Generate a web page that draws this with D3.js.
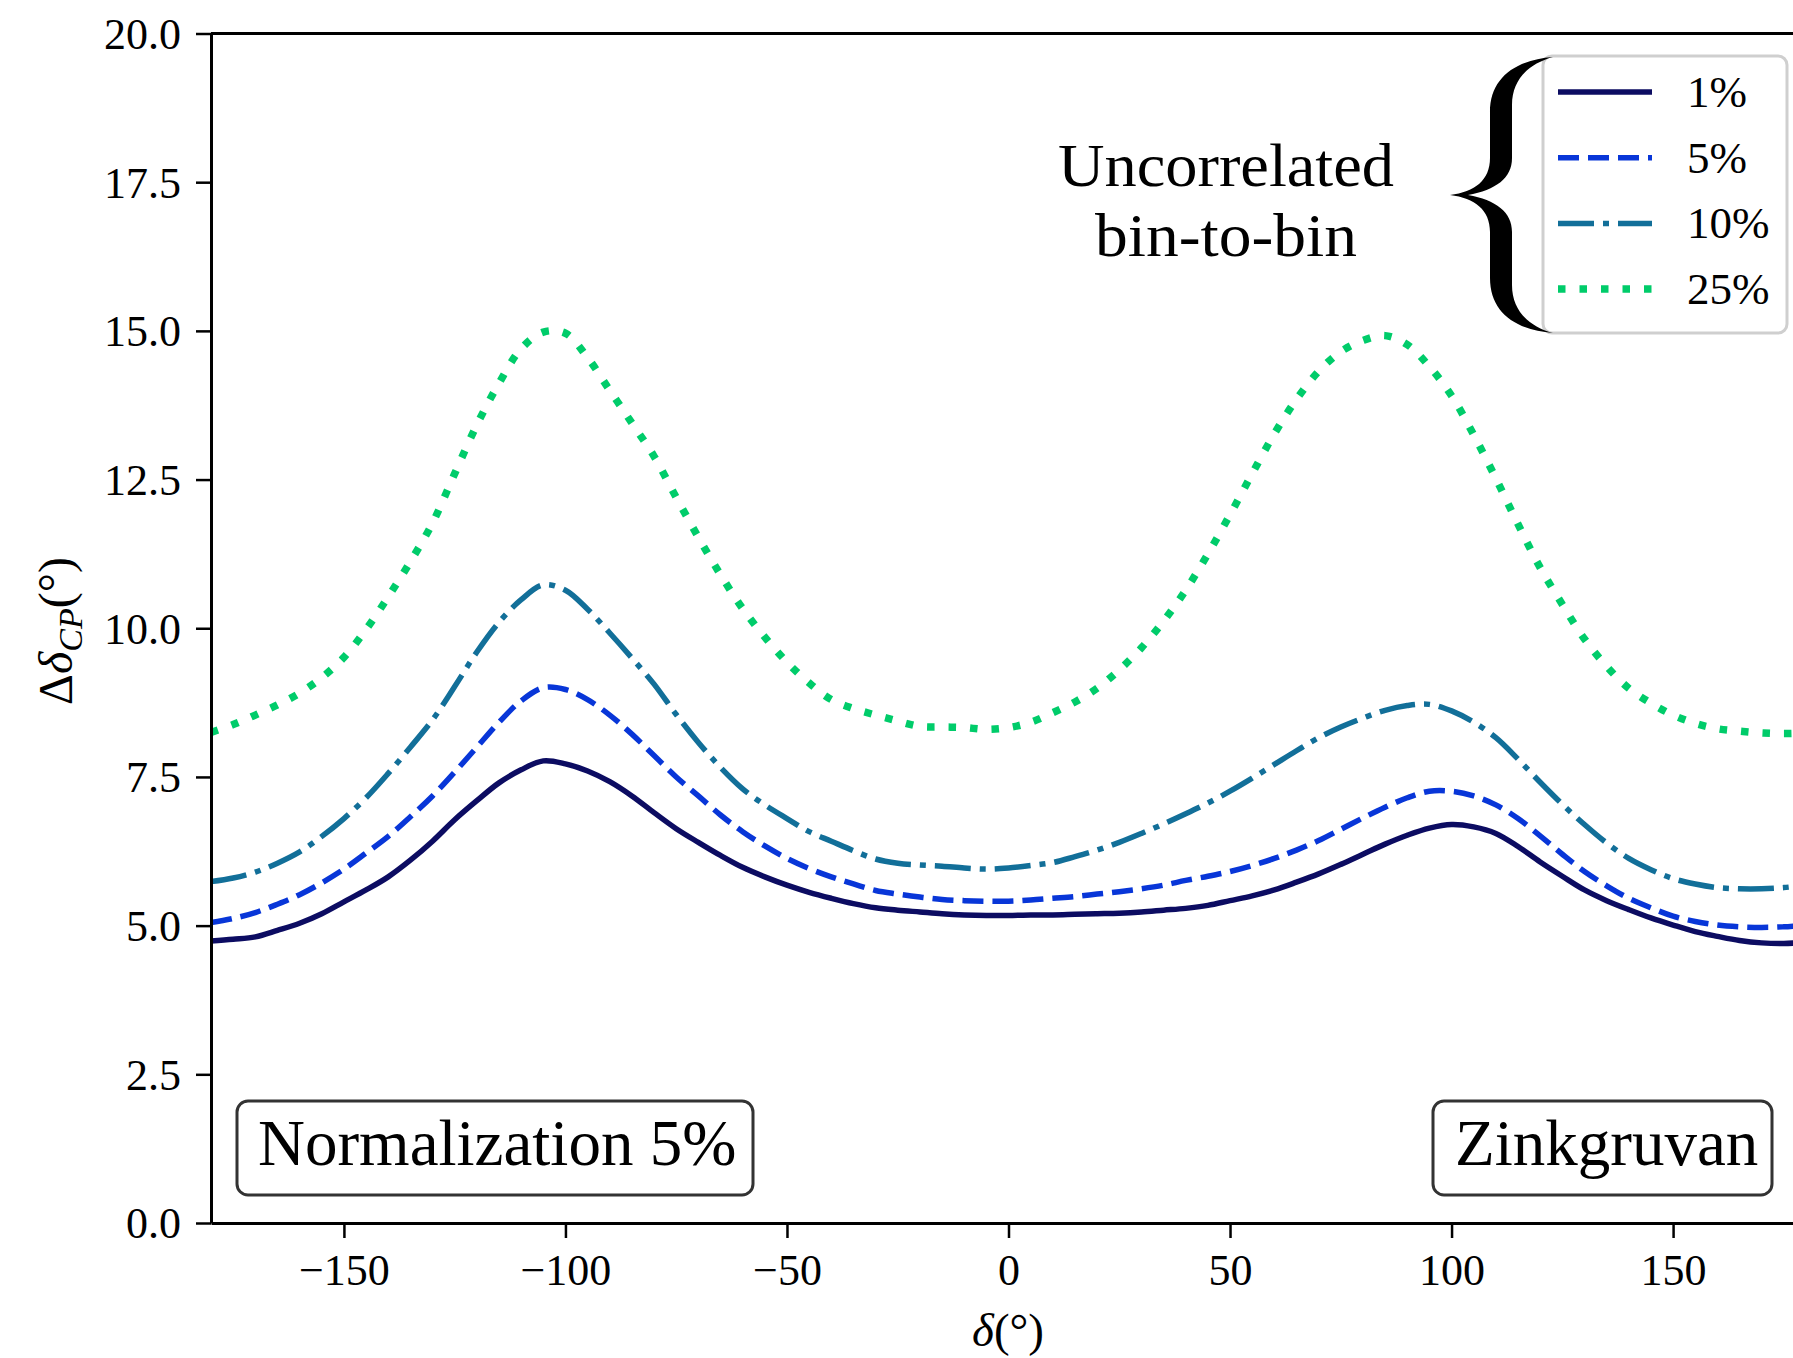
<!DOCTYPE html>
<html>
<head>
<meta charset="utf-8">
<script src="https://cdn.jsdelivr.net/npm/d3@7"></script>
<style>
  body { margin: 0; background: #fff; }
  svg { display: block; overflow: hidden; }
  text { font-family: "Liberation Serif", "DejaVu Serif", serif; fill: #000; }
</style>
</head>
<body>
<script>
// delta (deg), 5 degree steps
const deltaValues = [-180,-175,-170,-165,-160,-155,-150,-145,-140,-135,-130,-125,-120,-115,-110,-105,-100,-95,-90,-85,-80,-75,-70,-65,-60,-55,-50,-45,-40,-35,-30,-25,-20,-15,-10,-5,0,5,10,15,20,25,30,35,40,45,50,55,60,65,70,75,80,85,90,95,100,105,110,115,120,125,130,135,140,145,150,155,160,165,170,175,180]

const unc1 = [4.74,4.77,4.81,4.92,5.04,5.2,5.4,5.6,5.82,6.1,6.42,6.78,7.1,7.4,7.62,7.77,7.72,7.6,7.42,7.18,6.9,6.63,6.4,6.18,5.98,5.82,5.68,5.56,5.46,5.37,5.3,5.26,5.23,5.2,5.18,5.17,5.17,5.18,5.18,5.19,5.2,5.21,5.23,5.26,5.29,5.34,5.42,5.5,5.6,5.73,5.87,6.03,6.2,6.37,6.52,6.64,6.7,6.66,6.55,6.33,6.07,5.83,5.6,5.42,5.27,5.13,5.01,4.9,4.82,4.75,4.71,4.7,4.72]
const unc5 = [5.05,5.12,5.22,5.36,5.52,5.72,5.95,6.22,6.5,6.83,7.18,7.58,8.0,8.42,8.78,9.0,8.97,8.8,8.54,8.22,7.86,7.5,7.18,6.86,6.58,6.34,6.13,5.96,5.82,5.7,5.59,5.53,5.48,5.44,5.42,5.41,5.41,5.43,5.46,5.49,5.53,5.57,5.62,5.68,5.76,5.83,5.91,6.01,6.13,6.27,6.43,6.62,6.81,6.99,7.15,7.26,7.26,7.18,7.03,6.8,6.51,6.2,5.91,5.67,5.46,5.3,5.16,5.07,5.01,4.98,4.97,4.98,5.01]
const unc10 = [5.74,5.8,5.9,6.05,6.24,6.5,6.8,7.15,7.56,8.0,8.46,9.02,9.6,10.1,10.48,10.73,10.64,10.32,9.92,9.5,9.06,8.55,8.08,7.66,7.3,7.03,6.8,6.58,6.42,6.26,6.12,6.05,6.02,6.0,5.97,5.95,5.97,6.01,6.06,6.16,6.27,6.4,6.55,6.71,6.88,7.06,7.26,7.48,7.71,7.94,8.16,8.34,8.49,8.62,8.7,8.72,8.61,8.42,8.16,7.8,7.41,7.04,6.7,6.39,6.13,5.94,5.79,5.7,5.64,5.62,5.62,5.64,5.68]
const unc25 = [8.25,8.38,8.54,8.71,8.91,9.17,9.51,9.98,10.53,11.12,11.77,12.6,13.42,14.12,14.7,14.98,14.96,14.55,14.0,13.45,12.89,12.2,11.53,10.9,10.33,9.85,9.43,9.08,8.8,8.65,8.54,8.44,8.35,8.34,8.33,8.3,8.33,8.42,8.58,8.76,8.99,9.3,9.67,10.12,10.64,11.25,11.91,12.6,13.27,13.85,14.32,14.65,14.84,14.92,14.77,14.4,13.91,13.25,12.52,11.75,11.02,10.4,9.82,9.36,8.99,8.74,8.54,8.4,8.31,8.27,8.24,8.23,8.24]

const seriesNames = ['1%', '5%', '10%', '25%']
const xTicks = [-150, -100, -50, 0, 50, 100, 150]
const yTicks = [0, 2.5, 5, 7.5, 10, 12.5, 15, 17.5, 20]

const series = [
  {name: seriesNames[0], values: unc1, color: '#0c0c62', dash: null, width: 5.5},
  {name: seriesNames[1], values: unc5, color: '#0836d8', dash: '21,9', width: 5.5},
  {name: seriesNames[2], values: unc10, color: '#126f99', dash: '36,9,6,9', width: 5.5},
  {name: seriesNames[3], values: unc25, color: '#00cc6a', dash: '7.5,14', width: 7.5}
]

const W = 1793, H = 1358
const margin = {top: 33.5, left: 211}
const plotW = 1595, plotH = 1189.5

const svg = d3.select('body').append('svg')
  .attr('width', W)
  .attr('height', H)

const chart = svg.append('g')
  .attr('transform', `translate(${margin.left},${margin.top})`)

const xScale = d3.scaleLinear().domain([-180, 180]).range([0, plotW])
const yScale = d3.scaleLinear().domain([0, 20]).range([plotH, 0])

svg.append('defs').append('clipPath').attr('id', 'clip')
  .append('rect').attr('width', plotW).attr('height', plotH)

const line = d3.line()
  .x((d, i) => xScale(deltaValues[i]))
  .y(d => yScale(d))
  .curve(d3.curveCatmullRom)

const lines = chart.append('g').attr('clip-path', 'url(#clip)')
series.forEach(s => {
  lines.append('path')
    .datum(s.values)
    .attr('d', line)
    .attr('fill', 'none')
    .attr('stroke', s.color)
    .attr('stroke-width', s.width)
    .attr('stroke-dasharray', s.dash)
    .attr('stroke-linejoin', 'round')
})

// axes
const xAxis = d3.axisBottom(xScale).tickValues(xTicks).tickSize(15).tickSizeOuter(0).tickPadding(16)
const yAxis = d3.axisLeft(yScale).tickValues(yTicks).tickSize(15).tickSizeOuter(0).tickPadding(15)
  .tickFormat(d3.format('.1f'))

const gx = chart.append('g').attr('transform', `translate(0,${plotH})`).call(xAxis)
const gy = chart.append('g').call(yAxis)
;[gx, gy].forEach(g => {
  g.select('.domain').attr('stroke', '#000').attr('stroke-width', 3)
  g.selectAll('.tick line').attr('stroke', '#000').attr('stroke-width', 2.5)
  g.selectAll('.tick text').attr('font-size', 44).attr('fill', '#000')
    .style('font-family', '"Liberation Serif", serif')
})
gy.selectAll('.tick text').attr('dy', '0.34em')

// top and right spines
chart.append('line').attr('x1', 0).attr('x2', plotW).attr('y1', 0).attr('y2', 0)
  .attr('stroke', '#000').attr('stroke-width', 3)
chart.append('line').attr('x1', plotW).attr('x2', plotW).attr('y1', 0).attr('y2', plotH)
  .attr('stroke', '#000').attr('stroke-width', 3)

// axis labels
svg.append('text')
  .attr('x', 1008).attr('y', 1346)
  .attr('text-anchor', 'middle')
  .attr('font-size', 47)
  .html('<tspan font-style="italic">δ</tspan>(°)')

svg.append('text')
  .attr('transform', 'translate(72,631) rotate(-90)')
  .attr('text-anchor', 'middle')
  .attr('font-size', 48)
  .html('Δ<tspan font-style="italic">δ</tspan><tspan font-style="italic" font-size="34" dy="10">CP</tspan><tspan dy="-10">(°)</tspan>')

// text boxes
function textBox(x, y, w, h, label, tx) {
  svg.append('rect')
    .attr('x', x).attr('y', y).attr('width', w).attr('height', h)
    .attr('rx', 11).attr('fill', '#fff')
    .attr('stroke', '#333').attr('stroke-width', 3)
  svg.append('text')
    .attr('x', tx).attr('y', y + 64)
    .attr('font-size', 65)
    .text(label)
}
textBox(237, 1101, 516, 94, 'Normalization 5%', 258)
textBox(1433, 1101, 339, 94, 'Zinkgruvan', 1455)

// legend
const legX = 1543, legY = 56
svg.append('rect')
  .attr('x', legX).attr('y', legY).attr('width', 244).attr('height', 277)
  .attr('rx', 9).attr('fill', '#fff')
  .attr('stroke', '#cfcfcf').attr('stroke-width', 3)

series.forEach((s, i) => {
  const yy = 92 + i * 65.7
  svg.append('line')
    .attr('x1', 1558).attr('x2', 1652).attr('y1', yy).attr('y2', yy)
    .attr('stroke', s.color)
    .attr('stroke-width', s.width)
    .attr('stroke-dasharray', s.dash)
  svg.append('text')
    .attr('x', 1687).attr('y', yy + 15)
    .attr('font-size', 45)
    .text(s.name)
})

// brace
svg.append('path')
  .attr('d', 'M1553,57 C1515,60 1490,78 1490,112 L1490,158 C1490,180 1475,192 1450,195 ' +
    'C1475,198 1490,210 1490,232 L1490,278 C1490,312 1515,330 1553,333 ' +
    'C1528,326 1512,310 1512,285 L1512,232 C1512,212 1496,200 1468,195 ' +
    'C1496,190 1512,178 1512,158 L1512,105 C1512,80 1528,64 1553,57 Z')
  .attr('fill', '#000')

svg.append('text')
  .attr('x', 1226).attr('y', 186)
  .attr('text-anchor', 'middle')
  .attr('font-size', 61)
  .attr('textLength', 336).attr('lengthAdjust', 'spacingAndGlyphs')
  .text('Uncorrelated')
svg.append('text')
  .attr('x', 1226).attr('y', 256)
  .attr('text-anchor', 'middle')
  .attr('font-size', 61)
  .attr('textLength', 262).attr('lengthAdjust', 'spacingAndGlyphs')
  .text('bin-to-bin')
</script>
</body>
</html>
